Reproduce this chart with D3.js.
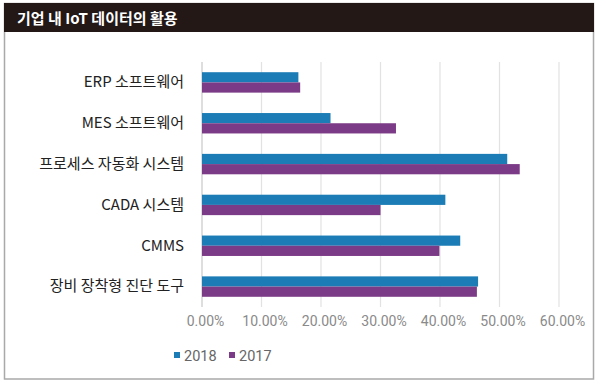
<!DOCTYPE html>
<html>
<head>
<meta charset="utf-8">
<script src="https://cdn.jsdelivr.net/npm/d3@7"></script>
<style>
  body { margin: 0; background: #fff; }
  svg { display: block; }
</style>
</head>
<body>
<div id="chart"></div>
<script>
const categories = ["ERP 소프트웨어", "MES 소프트웨어", "프로세스 자동화 시스템", "CADA 시스템", "CMMS", "장비 장착형 진단 도구"];
const seriesNames = ["2018", "2017"];
const values2018 = [0.162, 0.216, 0.513, 0.409, 0.434, 0.464];
const values2017 = [0.165, 0.326, 0.534, 0.300, 0.399, 0.462];
const xTicks = [0, 0.1, 0.2, 0.3, 0.4, 0.5, 0.6];
const colors = ["#1c7db6", "#7c3b87"];

const W = 600, H = 386;
const svg = d3.select("#chart").append("svg")
    .attr("width", W)
    .attr("height", H);

// frame + title bar
svg.append("rect")
    .attr("x", 4.5).attr("y", 3.5)
    .attr("width", 589).attr("height", 375.5)
    .attr("fill", "#fff")
    .attr("stroke", "#a9a9a9")
    .attr("stroke-width", 1.5);
svg.append("rect")
    .attr("x", 4).attr("y", 3)
    .attr("width", 590).attr("height", 29)
    .attr("fill", "#231816");
svg.append("text")
    .attr("x", 17).attr("y", 23.5)
    .attr("fill", "#fff")
    .attr("font-family", "'Noto Sans CJK KR', sans-serif")
    .attr("font-weight", "bold")
    .attr("font-size", 15)
    .text("기업 내 IoT 데이터의 활용");

const x = d3.scaleLinear().domain([0, 0.6]).range([202, 559]);
const y = d3.scaleBand().domain(categories).range([62, 307])
    .paddingInner(0.5).paddingOuter(0.25);
const ySub = d3.scaleBand().domain(seriesNames).range([0, y.bandwidth()]);

// gridlines
svg.append("g")
    .selectAll("line")
    .data(xTicks)
    .join("line")
    .attr("x1", d => x(d)).attr("x2", d => x(d))
    .attr("y1", 62).attr("y2", 307)
    .attr("stroke", d => d === 0 ? "#c8c8c8" : "#e2e2e2")
    .attr("stroke-width", 1.2);

// x axis labels
const xAxis = d3.axisBottom(x).tickValues(xTicks)
    .tickFormat(d => (d * 100).toFixed(2) + "%")
    .tickSize(0).tickPadding(0);
const gx = svg.append("g").attr("transform", "translate(0,316)").call(xAxis);
gx.select(".domain").remove();
gx.selectAll("text")
    .attr("fill", "#8a8a8a")
    .attr("font-family", "Roboto, 'Noto Sans', sans-serif")
    .attr("font-size", 14)
    .attr("dx", 3);

// y axis labels
const yAxis = d3.axisLeft(y).tickSize(0).tickPadding(18);
const gy = svg.append("g").attr("transform", "translate(202,0)").call(yAxis);
gy.select(".domain").remove();
gy.selectAll("text")
    .attr("fill", "#222")
    .attr("font-family", "'Noto Sans CJK KR', sans-serif")
    .attr("font-size", 15);

// bars
const series = [values2018, values2017];
series.forEach((vals, si) => {
    svg.append("g")
        .selectAll("rect")
        .data(vals)
        .join("rect")
        .attr("x", x(0))
        .attr("y", (d, i) => y(categories[i]) + ySub(seriesNames[si]))
        .attr("width", d => x(d) - x(0))
        .attr("height", ySub.bandwidth())
        .attr("fill", colors[si]);
});

// legend
const legend = svg.append("g").attr("transform", "translate(174,356)");
const lx = [0, 55];
seriesNames.forEach((s, i) => {
    legend.append("rect")
        .attr("x", lx[i]).attr("y", -4)
        .attr("width", 6).attr("height", 6)
        .attr("fill", colors[i]);
    legend.append("text")
        .attr("x", lx[i] + 10).attr("y", 0)
        .attr("dy", "0.35em")
        .attr("fill", "#666")
        .attr("font-family", "Roboto, 'Noto Sans', sans-serif")
        .attr("font-size", 14.5)
        .text(s);
});
</script>
</body>
</html>
